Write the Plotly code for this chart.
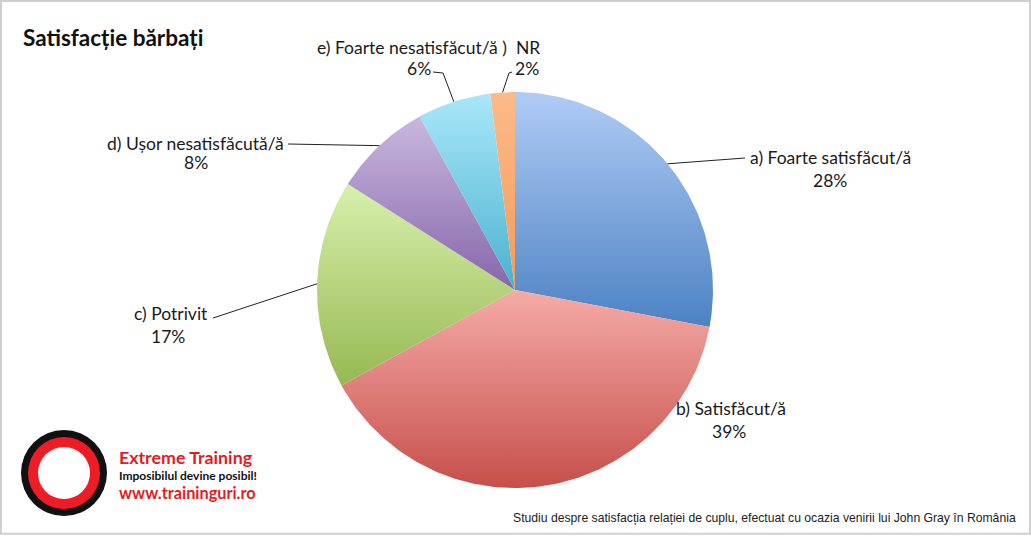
import math
import plotly.graph_objects as go

# ---------------- data ----------------
categories = ["a) Foarte satisfăcut/ă", "b) Satisfăcut/ă", "c) Potrivit",
              "d) Ușor nesatisfăcută/ă", "e) Foarte nesatisfăcut/ă )", "NR"]
values = [28, 39, 17, 8, 6, 2]
colors_top = ["#b0ccf5", "#f5aba7", "#d8f0ad", "#c8b8df", "#aae7f9", "#fbbb8a"]
colors_bottom = ["#4c82c3", "#c64f4b", "#95b952", "#8666a8", "#4ab2cf", "#f59a55"]

title_text = "Satisfacție bărbați"
footer_text = "Studiu despre satisfacția relației de cuplu, efectuat cu ocazia venirii lui John Gray în România"

# ---------------- layout geometry (pixels, origin top-left) ----------------
W, H = 1031, 536
CX, CY, R = 515, 290, 198
# label centres: (name_x, name_y, pct_x, pct_y)
label_pos = [
    (830, 157, 830, 180),
    (731, 408, 729, 431),
    (171, 313, 168, 336),
    (195, 143, 196, 162),
    (412, 47, 419, 68),
    (528, 47, 527, 68),
]
# start of leader lines (near the label), None = no leader
leader_start = [(745, 158), None, (213, 318), (288, 144), (433, 72), (512, 72)]
leader_elbow = [None, None, None, None, (443, 73), (509, 73)]

FONT = "Lato"
LSIZE = 17.5

TOTAL = sum(values)


def pt(ang):
    return CX + R * math.sin(ang), CY - R * math.cos(ang)


def arc_point(i):
    mid = (sum(values[:i]) + values[i] / 2) / TOTAL
    return pt(mid * 2 * math.pi)


fig = go.Figure()

# pie wedges with vertical gradient, on pixel-unit axes
for i, v in enumerate(values):
    a0 = sum(values[:i]) / TOTAL * 2 * math.pi
    a1 = (sum(values[:i]) + v) / TOTAL * 2 * math.pi
    n = max(8, int(360 * v / TOTAL))
    xs, ys = [CX], [CY]
    for k in range(n + 1):
        x, y = pt(a0 + (a1 - a0) * k / n)
        xs.append(x)
        ys.append(y)
    xs.append(CX)
    ys.append(CY)
    fig.add_trace(go.Scatter(
        x=xs, y=ys, mode="lines", fill="toself", line=dict(width=0),
        fillgradient=dict(type="vertical", colorscale=[[0, colors_top[i]], [1, colors_bottom[i]]],
                          start=min(ys), stop=max(ys)),
        showlegend=False, name=categories[i],
        hovertemplate=f"{categories[i]}: {v}%<extra></extra>",
    ))

annotations = []
for i, (nx, ny, qx, qy) in enumerate(label_pos):
    annotations.append(dict(x=nx, y=ny, xref="x", yref="y", text=categories[i],
                            showarrow=False, xanchor="center", yanchor="middle",
                            font=dict(family=FONT, size=LSIZE, color="#1a1a1a")))
    annotations.append(dict(x=qx, y=qy, xref="x", yref="y", text=f"{values[i]}%",
                            showarrow=False, xanchor="center", yanchor="middle",
                            font=dict(family=FONT, size=LSIZE, color="#1a1a1a")))
    if leader_start[i] is not None:
        pts = [leader_start[i]]
        if leader_elbow[i] is not None:
            pts.append(leader_elbow[i])
        pts.append(arc_point(i))
        fig.add_trace(go.Scatter(x=[p[0] for p in pts], y=[p[1] for p in pts], mode="lines",
                                 line=dict(color="#222222", width=1), showlegend=False,
                                 hoverinfo="skip"))

# title
annotations.append(dict(x=21, y=37, xref="x", yref="y",
                        text=f"<b>{title_text}</b>", showarrow=False, xanchor="left",
                        yanchor="middle", font=dict(family=FONT, size=22.5, color="#111111")))
# footer
annotations.append(dict(x=1018, y=518, xref="x", yref="y",
                        text=footer_text, showarrow=False, xanchor="right", yanchor="middle",
                        font=dict(family="Liberation Sans", size=12.2, color="#222222")))

# logo
shapes = []


def circle(cx, cy, r, color):
    return dict(type="circle", xref="x", yref="y", x0=cx - r, y0=cy - r, x1=cx + r, y1=cy + r,
                fillcolor=color, line=dict(width=0), layer="above")


shapes += [circle(64, 473, 43, "#111111"), circle(64, 473, 36, "#ee1c25"),
           circle(64, 473, 26, "#ffffff")]
for txt, yy, col, sz in [("Extreme Training", 457, "#e31b23", 17.8),
                         ("Imposibilul devine posibil!", 475, "#111111", 12.0),
                         ("www.traininguri.ro", 492, "#e31b23", 16.3)]:
    annotations.append(dict(x=117, y=yy, xref="x", yref="y", text=f"<b>{txt}</b>",
                            showarrow=False, xanchor="left", yanchor="middle",
                            font=dict(family=FONT, size=sz, color=col)))

# frame
shapes.append(dict(type="rect", xref="paper", yref="paper", x0=0.001, y0=0.004, x1=0.999, y1=0.998,
                   line=dict(color="#cfcfcf", width=2), fillcolor="rgba(0,0,0,0)"))

fig.update_layout(width=W, height=H, margin=dict(l=0, r=0, t=0, b=0),
                  paper_bgcolor="white", plot_bgcolor="white",
                  xaxis=dict(range=[0, W], visible=False, fixedrange=True, domain=[0, 1]),
                  yaxis=dict(range=[H, 0], visible=False, fixedrange=True, domain=[0, 1]),
                  annotations=annotations, shapes=shapes, hovermode="closest")
fig.write_html("out.html", config={"displayModeBar": False},
               post_script="document.body.style.margin='0';document.body.style.overflow='hidden';")
